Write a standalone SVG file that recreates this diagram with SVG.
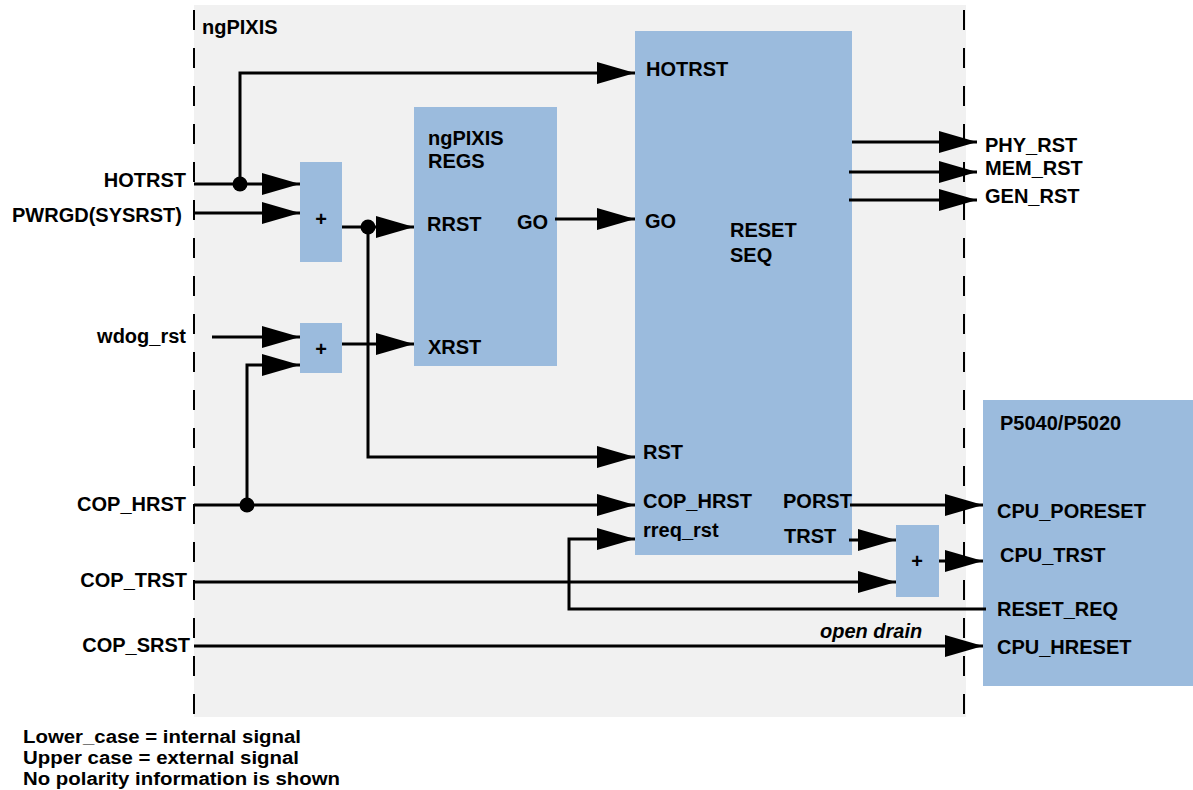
<svg xmlns="http://www.w3.org/2000/svg" width="1193" height="790" viewBox="0 0 1193 790">
<style>
text{font-family:"Liberation Sans",Arial,sans-serif;font-weight:bold;font-size:20px;fill:#000}
.r{text-anchor:end}
.box{fill:#9BBBDD}
.ln{stroke:#000;stroke-width:3;fill:none}
.ar{marker-end:url(#ah)}
.dash{stroke:#000;stroke-width:2;stroke-dasharray:20 18;fill:none}
.note{font-size:18px}
</style>
<defs>
<marker id="ah" viewBox="0 0 38 22" refX="38" refY="11" markerWidth="38" markerHeight="22" markerUnits="userSpaceOnUse" orient="auto">
<path d="M0,0 L38,11 L0,22 z" fill="#000"/>
</marker>
</defs>
<rect width="1193" height="790" fill="#fff"/>
<g id="ngpixis">
<rect x="194" y="5" width="772" height="712" fill="#F1F1F1"/>
<line class="dash" x1="194" y1="10" x2="194" y2="717"/>
<line class="dash" x1="964" y1="10" x2="964" y2="722"/>
<text x="202" y="34">ngPIXIS</text>
</g>
<g id="plus1"><rect class="box" x="300" y="162" width="42" height="100"/><text x="321" y="226" text-anchor="middle" font-size="18">+</text></g>
<g id="plus2"><rect class="box" x="300" y="323" width="42" height="50"/><text x="321" y="356" text-anchor="middle" font-size="18">+</text></g>
<g id="regs"><rect class="box" x="414" y="107" width="143" height="259"/>
<text x="428" y="145">ngPIXIS</text><text x="428" y="168">REGS</text>
<text x="427" y="231">RRST</text><text x="517" y="229">GO</text><text x="428" y="354">XRST</text></g>
<g id="resetseq"><rect class="box" x="635" y="31" width="217" height="524"/>
<text x="646" y="76">HOTRST</text><text x="645" y="228">GO</text>
<text x="730" y="237">RESET</text><text x="730" y="262">SEQ</text>
<text x="643" y="459">RST</text><text x="643" y="508">COP_HRST</text><text x="643" y="537">rreq_rst</text>
<text x="783" y="508">PORST</text><text x="784" y="543">TRST</text></g>
<g id="plus3"><rect class="box" x="896" y="525" width="43" height="72"/><text x="917" y="568" text-anchor="middle" font-size="18">+</text></g>
<g id="cpu"><rect class="box" x="983" y="400" width="210" height="286"/>
<text x="1000" y="430">P5040/P5020</text><text x="997" y="518">CPU_PORESET</text>
<text x="1000" y="562">CPU_TRST</text><text x="997" y="616">RESET_REQ</text><text x="997" y="654">CPU_HRESET</text></g>
<g id="labels">
<text class="r" x="186" y="187">HOTRST</text>
<text class="r" x="182" y="222">PWRGD(SYSRST)</text>
<text class="r" x="186" y="343">wdog_rst</text>
<text class="r" x="186" y="511">COP_HRST</text>
<text class="r" x="187" y="587">COP_TRST</text>
<text class="r" x="190" y="652">COP_SRST</text>
<text x="985" y="152">PHY_RST</text>
<text x="985" y="175">MEM_RST</text>
<text x="985" y="203">GEN_RST</text>
<text x="820" y="638" font-style="italic">open drain</text>
<text class="note" x="23" y="743" textLength="278" lengthAdjust="spacingAndGlyphs">Lower_case = internal signal</text>
<text class="note" x="23" y="764" textLength="276" lengthAdjust="spacingAndGlyphs">Upper case = external signal</text>
<text class="note" x="23" y="785" textLength="317" lengthAdjust="spacingAndGlyphs">No polarity information is shown</text>
</g>
<g id="connectors">
<path class="ln ar" d="M194,184 H300"/>
<path class="ln ar" d="M240,184 V73 H635"/>
<path class="ln ar" d="M194,213 H300"/>
<path class="ln ar" d="M342,227 H414"/>
<path class="ln ar" d="M368,227 V457 H635"/>
<path class="ln ar" d="M212,337 H300"/>
<path class="ln ar" d="M247,505 V365 H300"/>
<path class="ln ar" d="M342,344 H414"/>
<path class="ln ar" d="M555,219 H635"/>
<path class="ln ar" d="M852,142 H977"/>
<path class="ln ar" d="M849,172 H977"/>
<path class="ln ar" d="M849,200 H977"/>
<path class="ln ar" d="M194,505 H635"/>
<path class="ln ar" d="M850,505 H983"/>
<path class="ln ar" d="M986,609 H569 V539 H635"/>
<path class="ln ar" d="M849,540 H896"/>
<path class="ln ar" d="M194,582 H896"/>
<path class="ln ar" d="M939,561 H983"/>
<path class="ln ar" d="M194,646 H983"/>
<circle cx="240" cy="184" r="7.5"/>
<circle cx="368" cy="227" r="7.5"/>
<circle cx="247" cy="505" r="7.5"/>
</g>
</svg>
